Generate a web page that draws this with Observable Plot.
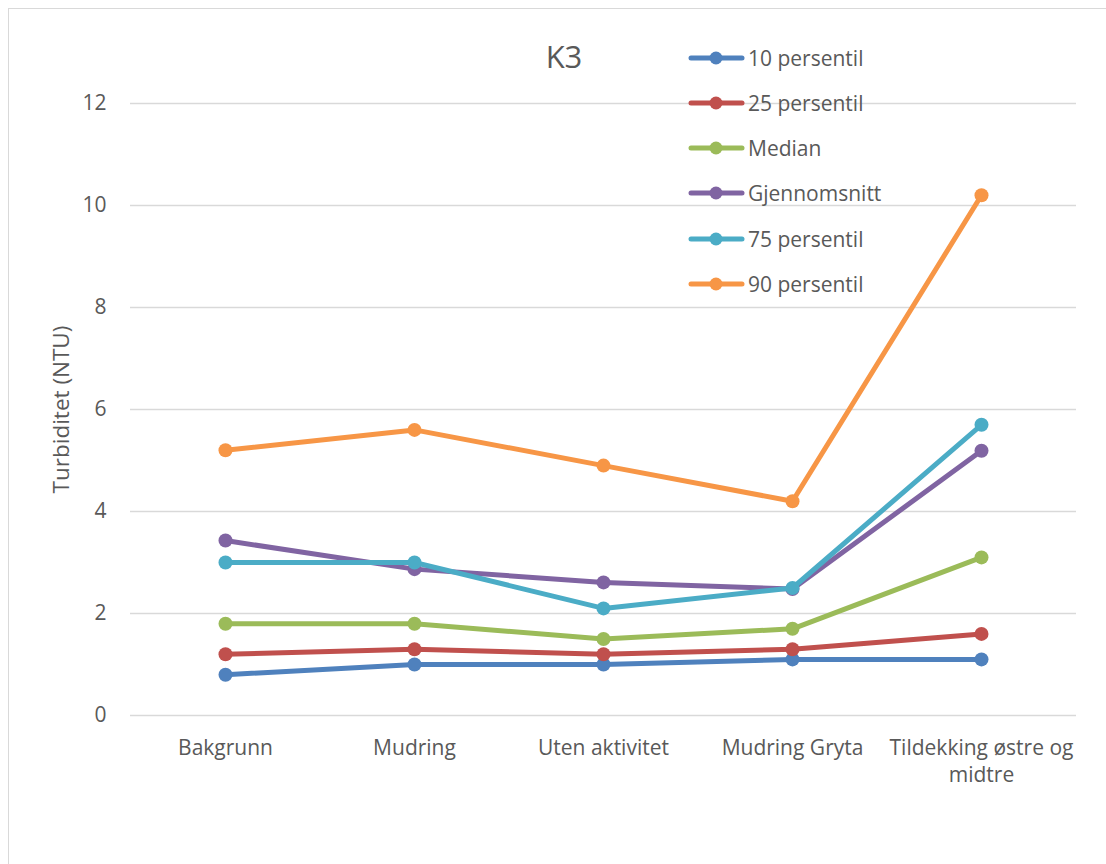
<!DOCTYPE html>
<html>
<head>
<meta charset="utf-8">
<script src="https://cdn.jsdelivr.net/npm/d3@7"></script>
<script src="https://cdn.jsdelivr.net/npm/@observablehq/plot@0.6"></script>
<style>
  html, body { margin: 0; padding: 0; background: #fff; }
  #chart { position: relative; width: 1106px; height: 864px; overflow: hidden; font-family: "Open Sans", sans-serif; color: #595959; }
  #frame { position: absolute; left: 8px; top: 8px; width: 1200px; height: 1000px; border-left: 1.5px solid #d9d9d9; border-top: 1.5px solid #d9d9d9; }
  #title { position: absolute; left: 564px; top: 56px; transform: translate(-50%, -50%); font-size: 31px; color: #595959; }
  #legend { position: absolute; left: 688px; top: 0; }
  .item { position: absolute; left: 0; display: flex; align-items: center; white-space: nowrap; font-size: 21px; color: #595959; transform: translateY(-50%); }
  .item svg { display: block; margin-right: 3px; }
  #plot { position: absolute; left: 0; top: 0; }
</style>
</head>
<body>
<div id="chart">
  <div id="frame"></div>
  <div id="plot"></div>
  <div id="title">K3</div>
  <div id="legend"></div>
</div>
<script>
// Turbidity at station K3 for each activity period
const categories = ["Bakgrunn", "Mudring", "Uten aktivitet", "Mudring Gryta", "Tildekking østre og midtre"];
const xTickLabels = ["Bakgrunn", "Mudring", "Uten aktivitet", "Mudring Gryta", "Tildekking østre og\nmidtre"];
const seriesNames = ["10 persentil", "25 persentil", "Median", "Gjennomsnitt", "75 persentil", "90 persentil"];
const p10 = [0.8, 1.0, 1.0, 1.1, 1.1];
const p25 = [1.2, 1.3, 1.2, 1.3, 1.6];
const median = [1.8, 1.8, 1.5, 1.7, 3.1];
const mean = [3.43, 2.87, 2.61, 2.48, 5.19];
const p75 = [3.0, 3.0, 2.1, 2.5, 5.7];
const p90 = [5.2, 5.6, 4.9, 4.2, 10.2];
const seriesColors = ["#4F81BD", "#C0504D", "#9BBB59", "#8064A2", "#4BACC6", "#F79646"];
const yTicks = [0, 2, 4, 6, 8, 10, 12];
const yLabel = "Turbiditet (NTU)";
const chartTitle = "K3";

const seriesValues = [p10, p25, median, mean, p75, p90];
const rows = seriesNames.map((name, s) =>
  categories.map((c, i) => ({series: name, category: c, value: seriesValues[s][i]}))
);

const textColor = "#595959";

// one line + markers per series, later series drawn on top
const seriesMarks = rows.flatMap((data, s) => [
  Plot.line(data, {x: "category", y: "value", stroke: seriesColors[s], strokeWidth: 5, strokeLinejoin: "round", strokeLinecap: "round"}),
  Plot.dot(data, {x: "category", y: "value", fill: seriesColors[s], r: 7, stroke: "none"})
]);

const plot = Plot.plot({
  width: 1106,
  height: 864,
  marginLeft: 130,
  marginRight: 30,
  marginTop: 103,
  marginBottom: 149,
  style: {fontFamily: "Open Sans, sans-serif", fontSize: "21px", color: textColor, background: "transparent"},
  x: {type: "point", domain: categories, padding: 0.5},
  y: {domain: [0, 12]},
  marks: [
    Plot.gridY(yTicks, {stroke: "#d9d9d9", strokeOpacity: 1, strokeWidth: 1.5}),
    Plot.axisY(yTicks, {tickSize: 0, tickPadding: 24, fontSize: 21, fill: textColor, label: null, tickFormat: (d) => String(d)}),
    Plot.axisX(categories, {
      tickSize: 0, tickPadding: 21, fontSize: 21, fill: textColor, label: null, lineHeight: 1.27,
      tickFormat: (d) => xTickLabels[categories.indexOf(d)]
    }),
    Plot.text([yLabel], {
      frameAnchor: "left", text: (d) => d, rotate: -90, dx: -69,
      textAnchor: "middle", lineAnchor: "middle", fontSize: 22.5, fill: textColor
    }),
    ...seriesMarks
  ]
});
document.getElementById("plot").appendChild(plot);
document.getElementById("title").textContent = chartTitle;

// legend entries in series order
const legend = document.getElementById("legend");
seriesNames.forEach((name, s) => {
  const item = document.createElement("div");
  item.className = "item";
  item.style.top = (57.7 + 45.2 * s) + "px";
  item.innerHTML =
    `<svg width="57" height="18"><line x1="3" x2="54" y1="9" y2="9" stroke="${seriesColors[s]}" stroke-width="5" stroke-linecap="round"/>` +
    `<circle cx="28" cy="9" r="6.5" fill="${seriesColors[s]}"/></svg><span>${name}</span>`;
  legend.appendChild(item);
});
</script>
</body>
</html>
